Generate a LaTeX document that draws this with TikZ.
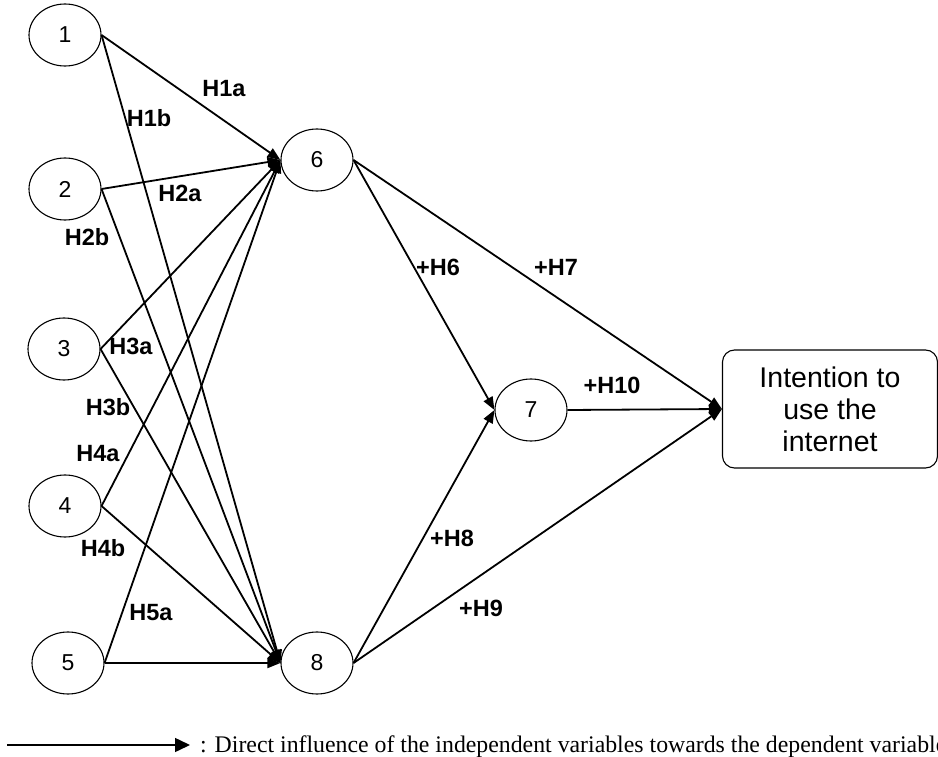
\documentclass[tikz,border=0pt]{standalone}
\usepackage{fontspec}
\setmainfont{Liberation Sans}
\newfontfamily\legendfont{Liberation Serif}
\usetikzlibrary{arrows.meta,shapes.geometric}
\begin{document}
\begin{tikzpicture}[x=1pt,y=-1pt,
 var/.style={draw,ellipse,minimum width=72pt,minimum height=62pt,inner sep=0pt,line width=1.1pt,font=\fontsize{23}{27}\selectfont},
 target/.style={draw,rounded corners=12pt,minimum width=215pt,minimum height=118pt,line width=1.1pt,align=center,font=\fontsize{28.5}{32}\selectfont},
 edge/.style={line width=1.8pt,-{Triangle[length=13pt,width=10pt]}},
 legarrow/.style={line width=1.5pt,-{Triangle[length=15pt,width=14pt]}},
 lab/.style={font=\bfseries\fontsize{23.5}{27}\selectfont,inner sep=0pt}]
\useasboundingbox (0,0) rectangle (938,757);
\clip (0,0) rectangle (938,757);

\node[var] (n1) at (65,35) {1};
\node[var] (n2) at (65,189) {2};
\node[var] (n3) at (64,349) {3};
\node[var] (n4) at (65,506) {4};
\node[var] (n5) at (68,663) {5};
\node[var] (n6) at (317,160) {6};
\node[var] (n7) at (531,410) {7};
\node[var] (n8) at (317,663) {8};
\node[target] (t) at (830,409) {Intention to\\use the\\internet};

\draw[edge] (n1.east) -- (n6.west);
\draw[edge] (n1.east) -- (n8.west);
\draw[edge] (n2.east) -- (n6.west);
\draw[edge] (n2.east) -- (n8.west);
\draw[edge] (n3.east) -- (n6.west);
\draw[edge] (n3.east) -- (n8.west);
\draw[edge] (n4.east) -- (n6.west);
\draw[edge] (n4.east) -- (n8.west);
\draw[edge] (n5.east) -- (n6.west);
\draw[edge] (n5.east) -- (n8.west);
\draw[edge] (n6.east) -- (n7.west);
\draw[edge] (n6.east) -- (t.west);
\draw[edge] (n8.east) -- (n7.west);
\draw[edge] (n8.east) -- (t.west);
\draw[edge] (n7.east) -- (t.west);

\node[lab] (l1a) at (224,89) {H1a};
\node[lab] (l1b) at (149,118) {H1b};
\node[lab] (l2a) at (180,193) {H2a};
\node[lab] (l2b) at (87,237) {H2b};
\node[lab] (l3a) at (131,346) {H3a};
\node[lab] (l3b) at (108,407) {H3b};
\node[lab] (l4a) at (98,454) {H4a};
\node[lab] (l4b) at (103,548) {H4b};
\node[lab] (l5a) at (151,613) {H5a};
\node[lab] (l6) at (438,267) {+H6};
\node[lab] (l7) at (556,267) {+H7};
\node[lab] (l10) at (612,385) {+H10};
\node[lab] (l8) at (452,538) {+H8};
\node[lab] (l9) at (481,608) {+H9};

\coordinate (la) at (7,745);
\coordinate (lb) at (190,745);
\draw[legarrow] (la) -- (lb);
\node[anchor=base west,inner sep=0pt] (legend) at (200,752) {\legendfont\fontsize{23.8}{27}\selectfont : Direct influence of the independent variables towards the dependent variables};
\end{tikzpicture}
\end{document}
